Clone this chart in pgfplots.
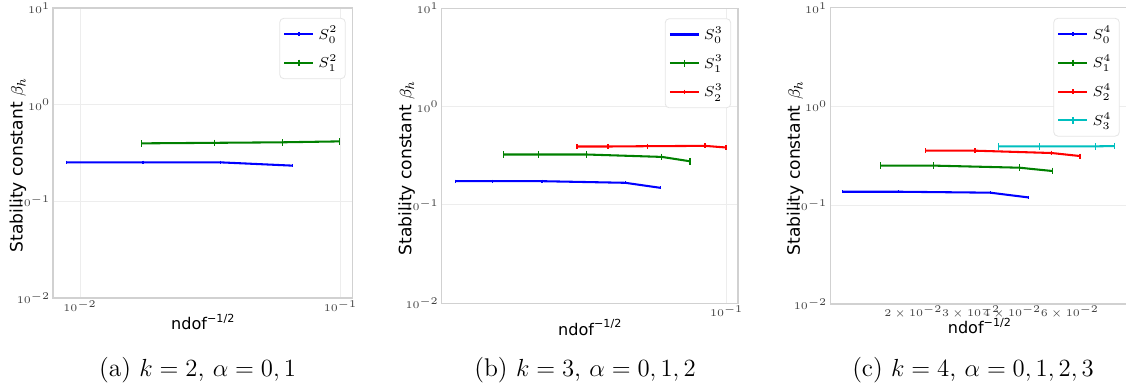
\documentclass[border=0pt]{standalone}
\usepackage{fontspec}
\usepackage{pgfplots}
\pgfplotsset{compat=1.18}
\newfontfamily\dv{DejaVu Sans}
\definecolor{mb}{rgb}{0,0,1}
\definecolor{mg}{rgb}{0,0.5,0}
\definecolor{mr}{rgb}{1,0,0}
\definecolor{mc}{rgb}{0,0.75,0.75}
\begin{document}
\begin{tikzpicture}
\useasboundingbox (0,0) rectangle (546.1pt,187.7pt);
% (a)
\begin{axis}[xmode=log, ymode=log, scale only axis,
  at={(25.7pt,43.2pt)}, anchor=south west,
  width=145.3pt, height=140.6pt, xmin=0.00787, xmax=0.1112, xtick={0.01,0.1},
  ymin=0.01, ymax=10, ytick={0.01,0.1,1,10},
  axis line style={black!18, line width=0.6pt},
  grid style={black!7, line width=0.5pt},
  xmajorgrids, ymajorgrids,
  major tick length=0pt, minor tick length=0pt,
  tick label style={font=\fontsize{5.2}{6}\selectfont, text=black!75},
  xticklabel style={inner sep=1pt},
  yticklabel style={inner sep=1.2pt},
  xlabel={\dv\fontsize{7.8}{9}\selectfont ndof\raisebox{0.85ex}{\fontsize{5.4}{6}\selectfont −1/2}},
  ylabel={\dv\fontsize{8.3}{9}\selectfont Stability constant $\beta_h$},
  xlabel style={inner sep=1pt, yshift=1pt},
  ylabel style={at={(rel axis cs:0,0.46)}, anchor=center, yshift=17pt},
  legend style={at={(rel axis cs:0.977,0.966)}, anchor=north east,
    draw=black!10, rounded corners=2pt, fill=white,
    font=\fontsize{7.5}{9}\selectfont, row sep=2.2pt, inner sep=1.8pt},
  legend image code/.code={\draw[mark repeat=2,mark phase=2,#1] plot coordinates {(0pt,0pt) (7pt,0pt) (14pt,0pt)};},
  legend cell align=left]
\addplot[mb, line width=1pt, mark=|, mark size=0.8pt, mark options={solid,line width=0.6pt}] coordinates {(0.00889,0.253) (0.01745,0.253) (0.0346,0.253) (0.0653,0.234)};
\addlegendentry{$S_0^2$}
\addplot[mg, line width=1pt, mark=|, mark size=1.6pt, mark options={solid,line width=0.6pt}] coordinates {(0.01726,0.398) (0.0329,0.403) (0.0597,0.408) (0.0991,0.417)};
\addlegendentry{$S_1^2$}
\end{axis}
% (b)
\begin{axis}[xmode=log, ymode=log, scale only axis,
  at={(214.2pt,40.6pt)}, anchor=south west,
  width=143.7pt, height=143.1pt, xmin=0.01035, xmax=0.1094, xtick={0.1},
  ymin=0.01, ymax=10, ytick={0.01,0.1,1,10},
  axis line style={black!18, line width=0.6pt},
  grid style={black!7, line width=0.5pt},
  xmajorgrids, ymajorgrids,
  major tick length=0pt, minor tick length=0pt,
  tick label style={font=\fontsize{5.2}{6}\selectfont, text=black!75},
  xticklabel style={inner sep=1pt},
  yticklabel style={inner sep=1.2pt},
  xlabel={\dv\fontsize{7.8}{9}\selectfont ndof\raisebox{0.85ex}{\fontsize{5.4}{6}\selectfont −1/2}},
  ylabel={\dv\fontsize{8.3}{9}\selectfont Stability constant $\beta_h$},
  xlabel style={inner sep=1pt, yshift=1pt},
  ylabel style={at={(rel axis cs:0,0.46)}, anchor=center, yshift=17pt},
  legend style={at={(rel axis cs:0.977,0.966)}, anchor=north east,
    draw=black!10, rounded corners=2pt, fill=white,
    font=\fontsize{7.5}{9}\selectfont, row sep=2.2pt, inner sep=1.8pt},
  legend image code/.code={\draw[mark repeat=2,mark phase=2,#1] plot coordinates {(0pt,0pt) (7pt,0pt) (14pt,0pt)};},
  legend cell align=left]
\addplot[mb, line width=1pt, mark=|, mark size=0.8pt, mark options={solid,line width=0.6pt}] coordinates {(0.01156,0.1745) (0.01548,0.1745) (0.0230,0.1745) (0.0446,0.168) (0.0589,0.1495)};
\addlegendentry{$S_0^3$}
\addplot[mg, line width=1pt, mark=|, mark size=1.6pt, mark options={solid,line width=0.6pt}] coordinates {(0.0169,0.326) (0.0224,0.326) (0.0327,0.326) (0.0597,0.308) (0.0747,0.278)};
\addlegendentry{$S_1^3$}
\addplot[mr, line width=1pt, mark=|, mark size=1.2pt, mark options={solid,line width=0.6pt}] coordinates {(0.0304,0.393) (0.0389,0.393) (0.0534,0.396) (0.0842,0.399) (0.0995,0.384)};
\addlegendentry{$S_2^3$}
\end{axis}
% (c)
\begin{axis}[xmode=log, ymode=log, scale only axis,
  at={(402.6pt,40.3pt)}, anchor=south west,
  width=144.8pt, height=143.6pt, xmin=0.01115, xmax=0.0906,
  xtick={0.02,0.03,0.04,0.06},
  xticklabels={$2\times10^{-2}$,$3\times10^{-2}$,$4\times10^{-2}$,$6\times10^{-2}$},
  ymin=0.01, ymax=10, ytick={0.01,0.1,1,10},
  axis line style={black!18, line width=0.6pt},
  grid style={black!7, line width=0.5pt},
  ymajorgrids,
  major tick length=0pt, minor tick length=0pt,
  tick label style={font=\fontsize{5.2}{6}\selectfont, text=black!75},
  xticklabel style={inner sep=0.6pt, font=\fontsize{4.4}{5}\selectfont},
  yticklabel style={inner sep=1.2pt},
  xlabel={\dv\fontsize{7.8}{9}\selectfont ndof\raisebox{0.85ex}{\fontsize{5.4}{6}\selectfont −1/2}},
  ylabel={\dv\fontsize{8.3}{9}\selectfont Stability constant $\beta_h$},
  xlabel style={inner sep=1pt, yshift=2pt},
  ylabel style={at={(rel axis cs:0,0.46)}, anchor=center, yshift=17pt},
  legend style={at={(rel axis cs:0.97,0.966)}, anchor=north east,
    draw=black!10, rounded corners=2pt, fill=white,
    font=\fontsize{7.5}{9}\selectfont, row sep=2.2pt, inner sep=1.8pt},
  legend image code/.code={\draw[mark repeat=2,mark phase=2,#1] plot coordinates {(0pt,0pt) (7pt,0pt) (14pt,0pt)};},
  legend cell align=left]
\addplot[mb, line width=1pt, mark=|, mark size=0.8pt, mark options={solid,line width=0.6pt}] coordinates {(0.01219,0.137) (0.0180,0.137) (0.0343,0.134) (0.0448,0.120)};
\addlegendentry{$S_0^4$}
\addplot[mg, line width=1pt, mark=|, mark size=1.6pt, mark options={solid,line width=0.6pt}] coordinates {(0.01584,0.252) (0.0230,0.252) (0.0421,0.240) (0.0531,0.222)};
\addlegendentry{$S_1^4$}
\addplot[mr, line width=1pt, mark=|, mark size=1.2pt, mark options={solid,line width=0.6pt}] coordinates {(0.0218,0.357) (0.0308,0.357) (0.0528,0.338) (0.0644,0.315)};
\addlegendentry{$S_2^4$}
\addplot[mc, line width=1pt, mark=|, mark size=1.6pt, mark options={solid,line width=0.6pt}] coordinates {(0.0363,0.395) (0.0484,0.395) (0.0718,0.395) (0.0822,0.398)};
\addlegendentry{$S_3^4$}
\end{axis}
\node[font=\fontsize{12.4}{14}\selectfont] at (95.8pt,8.2pt) {(a) $k=2$, $\alpha=0,1$};
\node[font=\fontsize{12.4}{14}\selectfont] at (283.7pt,8.2pt) {(b) $k=3$, $\alpha=0,1,2$};
\node[font=\fontsize{12.4}{14}\selectfont] at (471.9pt,8.2pt) {(c) $k=4$, $\alpha=0,1,2,3$};
\end{tikzpicture}
\end{document}
